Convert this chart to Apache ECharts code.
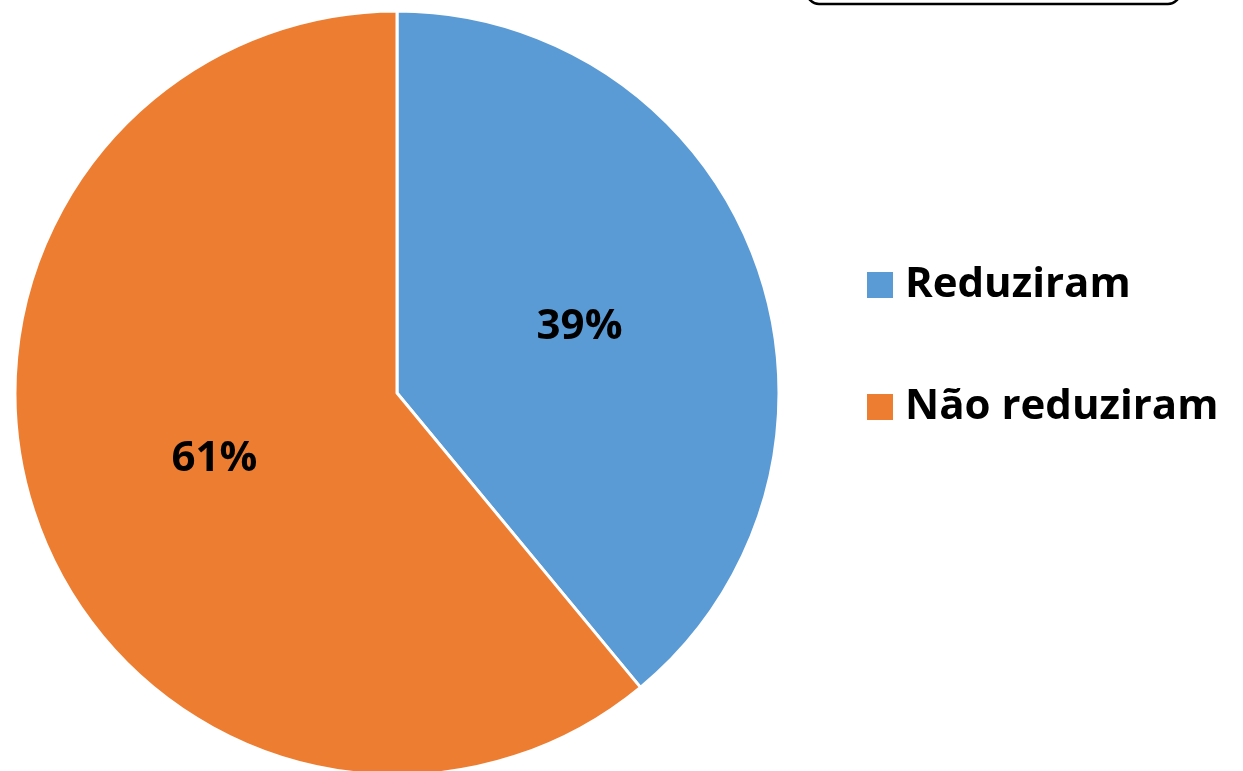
<!DOCTYPE html>
<html><head><meta charset="utf-8">
<script src="https://cdn.jsdelivr.net/npm/echarts@6/dist/echarts.min.js"></script>
<style>html,body{margin:0;padding:0;background:#fff}#c{width:1243px;height:771px}</style>
</head><body><div id="c"></div>
<script>
const categories = ['Reduziram', 'Não reduziram'];
const values = [39, 61];
const colors = ['#5B9BD5', '#ED7D31'];

const chart = echarts.init(document.getElementById('c'));
chart.setOption({
  animation: false,
  color: colors,
  graphic: [{
    type: 'rect', shape: {x: 807, y: -40, width: 373, height: 44, r: 12},
    style: {fill: '#fff', stroke: '#000', lineWidth: 2.5}
  }],
  legend: {
    orient: 'vertical', left: 860, top: 259,
    icon: 'rect', itemWidth: 28, itemHeight: 28, itemGap: 80,
    textStyle: {fontFamily: 'Open Sans', fontWeight: 'bold', fontSize: 42, color: '#000', padding: [0, 0, 0, 6]},
    data: categories
  },
  series: [{
    type: 'pie', center: [397, 393], radius: 382, startAngle: 90, clockwise: true,
    itemStyle: {borderColor: '#fff', borderWidth: 3},
    label: {position: 'inside', formatter: '{c}%', fontFamily: 'Open Sans', fontWeight: 'bold', fontSize: 42, color: '#000'},
    labelLine: {show: false},
    data: categories.map((n, i) => ({name: n, value: values[i]}))
  }]
});
</script></body></html>
